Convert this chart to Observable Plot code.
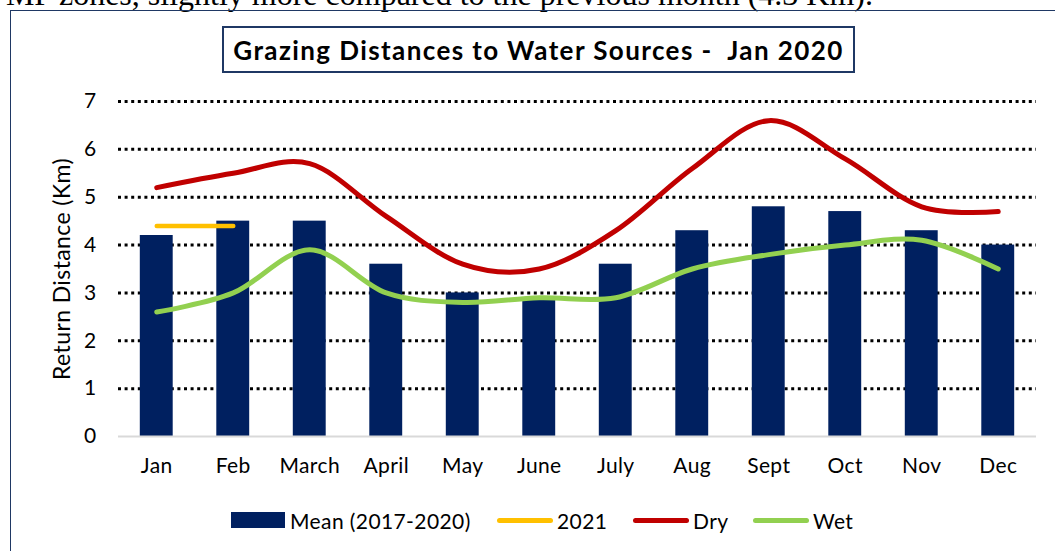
<!DOCTYPE html>
<html>
<head>
<meta charset="utf-8">
<script src="https://cdn.jsdelivr.net/npm/d3@7"></script>
<script src="https://cdn.jsdelivr.net/npm/@observablehq/plot@0.6"></script>
<style>
  html, body { margin: 0; padding: 0; background: #fff; width: 1055px; height: 551px; overflow: hidden; position: relative; }
  #doctext { position: absolute; right: 182px; top: -22px; line-height: 1; white-space: nowrap; font-family: "Liberation Serif", serif; font-size: 32px; color: #000; }
  #frame { position: absolute; left: 10px; top: 10px; width: 1100px; height: 600px; border: 1.5px solid #1F3864; box-sizing: border-box; }
  #title { position: absolute; left: 222px; top: 26px; width: 633px; height: 47px; border: 2px solid #1F3864; box-sizing: border-box; display: flex; align-items: center; justify-content: center; font-family: Lato, sans-serif; font-weight: bold; font-size: 26px; letter-spacing: 1.4px; color: #000; white-space: nowrap; }
  #chart { position: absolute; left: 0; top: 0; }
  .leg { position: absolute; top: 508px; height: 24px; display: flex; align-items: center; font-family: Lato, sans-serif; font-size: 21px; letter-spacing: 0.4px; color: #000; white-space: nowrap; }
  .sw-rect { width: 54px; height: 16px; margin-right: 5px; }
  .sw-line { width: 56px; height: 5px; border-radius: 3px; margin-right: 4px; }
</style>
</head>
<body>
<div id="doctext">MP zones, slightly more compared to the previous month (4.3 Km).</div>
<div id="frame"></div>
<div id="chart"></div>
<div id="title">Grazing Distances to Water Sources -&nbsp; Jan 2020</div>
<div id="legend"></div>
<script>
const months = ["Jan", "Feb", "March", "April", "May", "June", "July", "Aug", "Sept", "Oct", "Nov", "Dec"];
const meanValues = [4.2, 4.5, 4.5, 3.6, 3.0, 2.9, 3.6, 4.3, 4.8, 4.7, 4.3, 4.0];
const y2021Months = ["Jan", "Feb"];
const y2021Values = [4.4, 4.4];
const dryValues = [5.2, 5.5, 5.7, 4.6, 3.6, 3.5, 4.3, 5.6, 6.6, 5.8, 4.8, 4.7];
const wetValues = [2.6, 3.0, 3.9, 3.0, 2.8, 2.9, 2.9, 3.5, 3.8, 4.0, 4.1, 3.5];
const yTicks = [0, 1, 2, 3, 4, 5, 6, 7];
const seriesNames = ["Mean (2017-2020)", "2021", "Dry", "Wet"];
const seriesColors = ["#002060", "#FFC000", "#C00000", "#92D050"];

const meanData = months.map((m, i) => ({month: m, value: meanValues[i]}));
const dryData = months.map((m, i) => ({month: m, value: dryValues[i]}));
const wetData = months.map((m, i) => ({month: m, value: wetValues[i]}));
const y2021Data = y2021Months.map((m, i) => ({month: m, value: y2021Values[i]}));

const chart = Plot.plot({
  width: 1055,
  height: 490,
  marginLeft: 118,
  marginRight: 19,
  marginTop: 101,
  marginBottom: 54,
  style: {fontFamily: "Lato, sans-serif", fontSize: "21px", color: "#000", background: "transparent", overflow: "visible", letterSpacing: "0.4px"},
  x: {type: "band", domain: months, paddingInner: 0.57, paddingOuter: 0.285, round: false, label: null},
  y: {domain: [0, 7], ticks: yTicks, label: null},
  marks: [
    Plot.ruleY(yTicks.filter(d => d > 0), {stroke: "#000", strokeWidth: 3, strokeDasharray: "3,3.6"}),
    Plot.barY(meanData, {x: "month", y: "value", fill: seriesColors[0]}),
    Plot.ruleY([0], {stroke: "#D9D9D9", strokeWidth: 2}),
    Plot.line(dryData, {x: "month", y: "value", stroke: seriesColors[2], strokeWidth: 5, curve: "cardinal", tension: 0, strokeLinecap: "round"}),
    Plot.line(wetData, {x: "month", y: "value", stroke: seriesColors[3], strokeWidth: 5, curve: "cardinal", tension: 0, strokeLinecap: "round"}),
    Plot.line(y2021Data, {x: "month", y: "value", stroke: seriesColors[1], strokeWidth: 4.5, strokeLinecap: "round"}),
    Plot.axisY({ticks: yTicks, tickSize: 0, tickPadding: 22, tickFormat: d3.format("d"), label: null, fontSize: 21}),
    Plot.axisX({tickSize: 0, tickPadding: 22, label: null, fontSize: 21}),
    Plot.text(["Return Distance (Km)"], {frameAnchor: "left", dx: -56, rotate: -90, fontSize: 23, textAnchor: "middle", text: d => d})
  ]
});
document.getElementById("chart").appendChild(chart);

const legendLeft = [231, 497, 633, 753];
const legend = document.getElementById("legend");
seriesNames.forEach((name, i) => {
  const item = document.createElement("div");
  item.className = "leg";
  item.style.left = legendLeft[i] + "px";
  const sw = document.createElement("div");
  sw.className = i === 0 ? "sw-rect" : "sw-line";
  sw.style.background = seriesColors[i];
  item.appendChild(sw);
  const t = document.createElement("span");
  t.textContent = name;
  item.appendChild(t);
  legend.appendChild(item);
});
</script>
</body>
</html>
